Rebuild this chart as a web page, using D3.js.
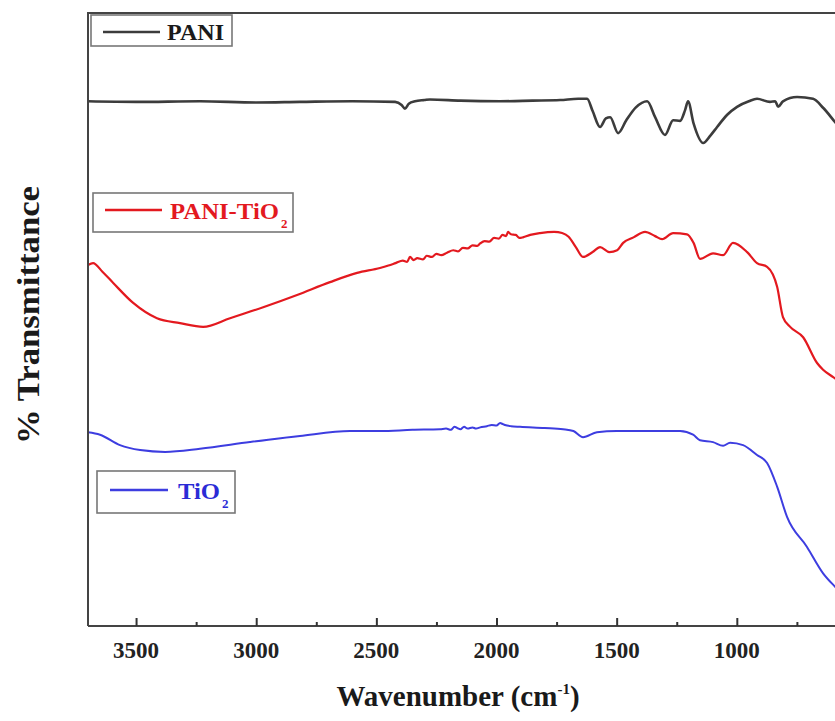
<!DOCTYPE html>
<html>
<head>
<meta charset="utf-8">
<script src="https://cdn.jsdelivr.net/npm/d3@7"></script>
<style>
  body { margin: 0; background: #fff; }
  text { font-family: "Liberation Serif", "DejaVu Serif", serif; font-weight: bold; }
</style>
</head>
<body>
<div id="chart"></div>
<script>
// wavenumber (cm-1) and transmittance (arbitrary %, curves are offset)
const paniWave = [3700, 3500, 3234, 3000, 2818, 2600, 2422, 2395, 2381, 2365, 2339, 2300, 2277, 2150, 1985, 1850, 1735, 1660, 1623, 1600, 1569, 1545, 1527, 1494, 1460, 1420, 1373, 1340, 1299, 1265, 1236, 1215, 1203, 1180, 1140, 1110, 1082, 1040, 999, 950, 916, 862, 840, 828, 808, 749, 683, 640, 591, 500];
const paniT    = [85.6, 85.5, 85.6, 85.4, 85.5, 85.6, 85.5, 85.0, 84.4, 85.2, 85.6, 85.8, 85.9, 85.7, 85.6, 85.7, 85.8, 86.0, 86.0, 84.0, 81.4, 82.8, 83.0, 80.4, 82.5, 84.6, 85.6, 83.0, 80.1, 82.5, 82.4, 84.2, 85.6, 82.0, 78.8, 80.0, 81.4, 83.4, 84.7, 85.6, 86.0, 85.5, 85.6, 84.7, 85.6, 86.3, 86.0, 84.5, 82.2, 78.0];

const pTiWave = [3700, 3679, 3640, 3596, 3512, 3413, 3317, 3221, 3109, 2971, 2830, 2693, 2580, 2485, 2450, 2420, 2390, 2372, 2360, 2345, 2330, 2306, 2290, 2270, 2250, 2230, 2206, 2180, 2160, 2140, 2120, 2100, 2080, 2068, 2050, 2030, 2010, 1990, 1975, 1960, 1952, 1940, 1920, 1905, 1890, 1860, 1819, 1760, 1727, 1700, 1670, 1640, 1600, 1569, 1530, 1498, 1473, 1430, 1382, 1340, 1311, 1265, 1207, 1180, 1153, 1099, 1057, 1016, 957, 916, 874, 832, 808, 778, 724, 666, 641, 599, 500];
const pTiT    = [58.9, 59.2, 57.8, 56.0, 52.7, 50.2, 49.4, 48.8, 50.2, 52.0, 54.0, 56.1, 57.6, 58.4, 58.8, 59.2, 59.6, 59.4, 60.2, 59.7, 60.0, 59.8, 60.4, 60.2, 60.7, 60.5, 60.9, 61.3, 61.1, 61.7, 61.6, 62.1, 62.0, 62.4, 62.8, 62.7, 63.3, 63.2, 63.8, 63.6, 64.3, 63.9, 63.8, 63.3, 63.4, 63.8, 64.1, 64.3, 64.1, 63.5, 61.8, 60.2, 61.0, 61.8, 61.0, 61.3, 62.5, 63.4, 64.3, 63.6, 63.1, 64.1, 63.9, 62.5, 59.9, 60.8, 60.5, 62.5, 61.0, 59.2, 58.6, 55.3, 50.4, 48.8, 47.1, 42.9, 41.8, 40.6, 38.0];

const tioWave = [3700, 3650, 3567, 3483, 3379, 3234, 3026, 2818, 2609, 2485, 2350, 2235, 2210, 2190, 2175, 2164, 2150, 2135, 2120, 2100, 2085, 2068, 2040, 2020, 2000, 1985, 1977, 1965, 1940, 1902, 1800, 1723, 1680, 1640, 1582, 1500, 1403, 1300, 1236, 1182, 1153, 1099, 1057, 1028, 974, 916, 874, 832, 791, 708, 641, 591, 500];
const tioT    = [31.6, 31.2, 29.5, 28.7, 28.4, 28.9, 30.0, 31.0, 31.8, 31.8, 32.0, 32.1, 32.2, 32.0, 32.5, 32.3, 32.1, 32.5, 32.2, 32.4, 32.2, 32.4, 32.6, 32.8, 32.7, 33.1, 33.0, 32.8, 32.6, 32.5, 32.3, 32.1, 31.8, 30.8, 31.6, 31.8, 31.8, 31.8, 31.8, 31.2, 30.3, 30.0, 29.4, 29.9, 29.5, 27.9, 26.6, 22.7, 17.8, 12.9, 8.6, 6.4, 3.0];

const majorTicks = [3500, 3000, 2500, 2000, 1500, 1000];
const minorTicks = [3250, 2750, 2250, 1750, 1250, 750];

const width = 835, height = 721;
const plot = {left: 88, right: 881, top: 13, bottom: 626};

const svg = d3.select("#chart")
  .append("svg")
  .attr("width", width)
  .attr("height", height);

const x = d3.scaleLinear()
  .domain([3700, 400])
  .range([plot.left, plot.right]);

const y = d3.scaleLinear()
  .domain([0, 100])
  .range([plot.bottom, plot.top]);

svg.append("defs").append("clipPath")
  .attr("id", "clip")
  .append("rect")
  .attr("x", plot.left)
  .attr("y", plot.top)
  .attr("width", plot.right - plot.left)
  .attr("height", plot.bottom - plot.top);

// curves
const line = d3.line()
  .x(d => x(d[0]))
  .y(d => y(d[1]))
  .curve(d3.curveMonotoneX);

const series = [
  {w: paniWave, t: paniT, color: "#3c3c3c", sw: 2.6},
  {w: pTiWave, t: pTiT, color: "#e3191f", sw: 2.2},
  {w: tioWave, t: tioT, color: "#3d3de0", sw: 2.0}
];

series.forEach(s => {
  svg.append("path")
    .datum(d3.zip(s.w, s.t))
    .attr("clip-path", "url(#clip)")
    .attr("fill", "none")
    .attr("stroke", s.color)
    .attr("stroke-width", s.sw)
    .attr("stroke-linejoin", "round")
    .attr("d", line);
});

// frame (left, top) and bottom axis
svg.append("path")
  .attr("d", `M${plot.left},${plot.bottom}V${plot.top}H${width}`)
  .attr("fill", "none")
  .attr("stroke", "#444")
  .attr("stroke-width", 2);

const xAxis = svg.append("g")
  .attr("transform", `translate(0, ${plot.bottom})`)
  .call(d3.axisBottom(x).tickValues(majorTicks).tickSize(-8).tickFormat(""));
xAxis.select(".domain").attr("stroke", "#444").attr("stroke-width", 2)
  .attr("d", `M${plot.left},0H${width}`);
xAxis.selectAll(".tick line").attr("stroke", "#333").attr("stroke-width", 2);

const xMinor = svg.append("g")
  .attr("transform", `translate(0, ${plot.bottom})`)
  .call(d3.axisBottom(x).tickValues(minorTicks).tickSize(-4).tickFormat(""));
xMinor.select(".domain").remove();
xMinor.selectAll(".tick line").attr("stroke", "#333").attr("stroke-width", 2);

svg.append("g")
  .selectAll("text")
  .data(majorTicks)
  .join("text")
  .attr("x", d => x(d))
  .attr("y", 658)
  .attr("text-anchor", "middle")
  .attr("font-size", 23)
  .attr("fill", "#222")
  .text(d => d);

// axis titles
const xt = svg.append("text")
  .attr("x", 458)
  .attr("y", 706)
  .attr("text-anchor", "middle")
  .attr("font-size", 29)
  .attr("fill", "#1a1a1a");
xt.append("tspan").text("Wavenumber (cm");
xt.append("tspan").attr("font-size", 15).attr("dy", -12).text("-1");
xt.append("tspan").attr("dy", 12).text(")");

svg.append("text")
  .attr("transform", "translate(39, 315) rotate(-90)")
  .attr("text-anchor", "middle")
  .attr("font-size", 31)
  .attr("textLength", 258)
  .attr("lengthAdjust", "spacingAndGlyphs")
  .attr("fill", "#1a1a1a")
  .text("% Transmittance");

// legends
const legends = [
  {box: [91, 15, 141, 31], ly: 32, lx: [103, 160], tx: 167, ty: 40, tl: 57, label: "PANI", sub: null, color: "#3c3c3c", text: "#1a1a1a"},
  {box: [93, 193, 200, 39], ly: 210, lx: [105, 162], tx: 170, ty: 219, tl: 109, label: "PANI-TiO", sub: "2", color: "#e3191f", text: "#e3191f"},
  {box: [97, 471, 138, 42], ly: 490, lx: [110, 168], tx: 178, ty: 499, tl: 42, label: "TiO", sub: "2", color: "#3d3de0", text: "#2b2bd6"}
];

legends.forEach(l => {
  svg.append("rect")
    .attr("x", l.box[0]).attr("y", l.box[1])
    .attr("width", l.box[2]).attr("height", l.box[3])
    .attr("fill", "#fff")
    .attr("stroke", "#777")
    .attr("stroke-width", 1.6);
  svg.append("line")
    .attr("x1", l.lx[0]).attr("x2", l.lx[1])
    .attr("y1", l.ly).attr("y2", l.ly)
    .attr("stroke", l.color)
    .attr("stroke-width", 2.6);
  const t = svg.append("text")
    .attr("y", l.ty)
    .attr("font-size", 23)
    .attr("fill", l.text);
  t.append("tspan")
    .attr("x", l.tx)
    .attr("textLength", l.tl)
    .attr("lengthAdjust", "spacingAndGlyphs")
    .text(l.label);
  if (l.sub) t.append("tspan").attr("x", l.tx + l.tl + 2).attr("font-size", 13).attr("dy", 9).text(l.sub);
});
</script>
</body>
</html>
